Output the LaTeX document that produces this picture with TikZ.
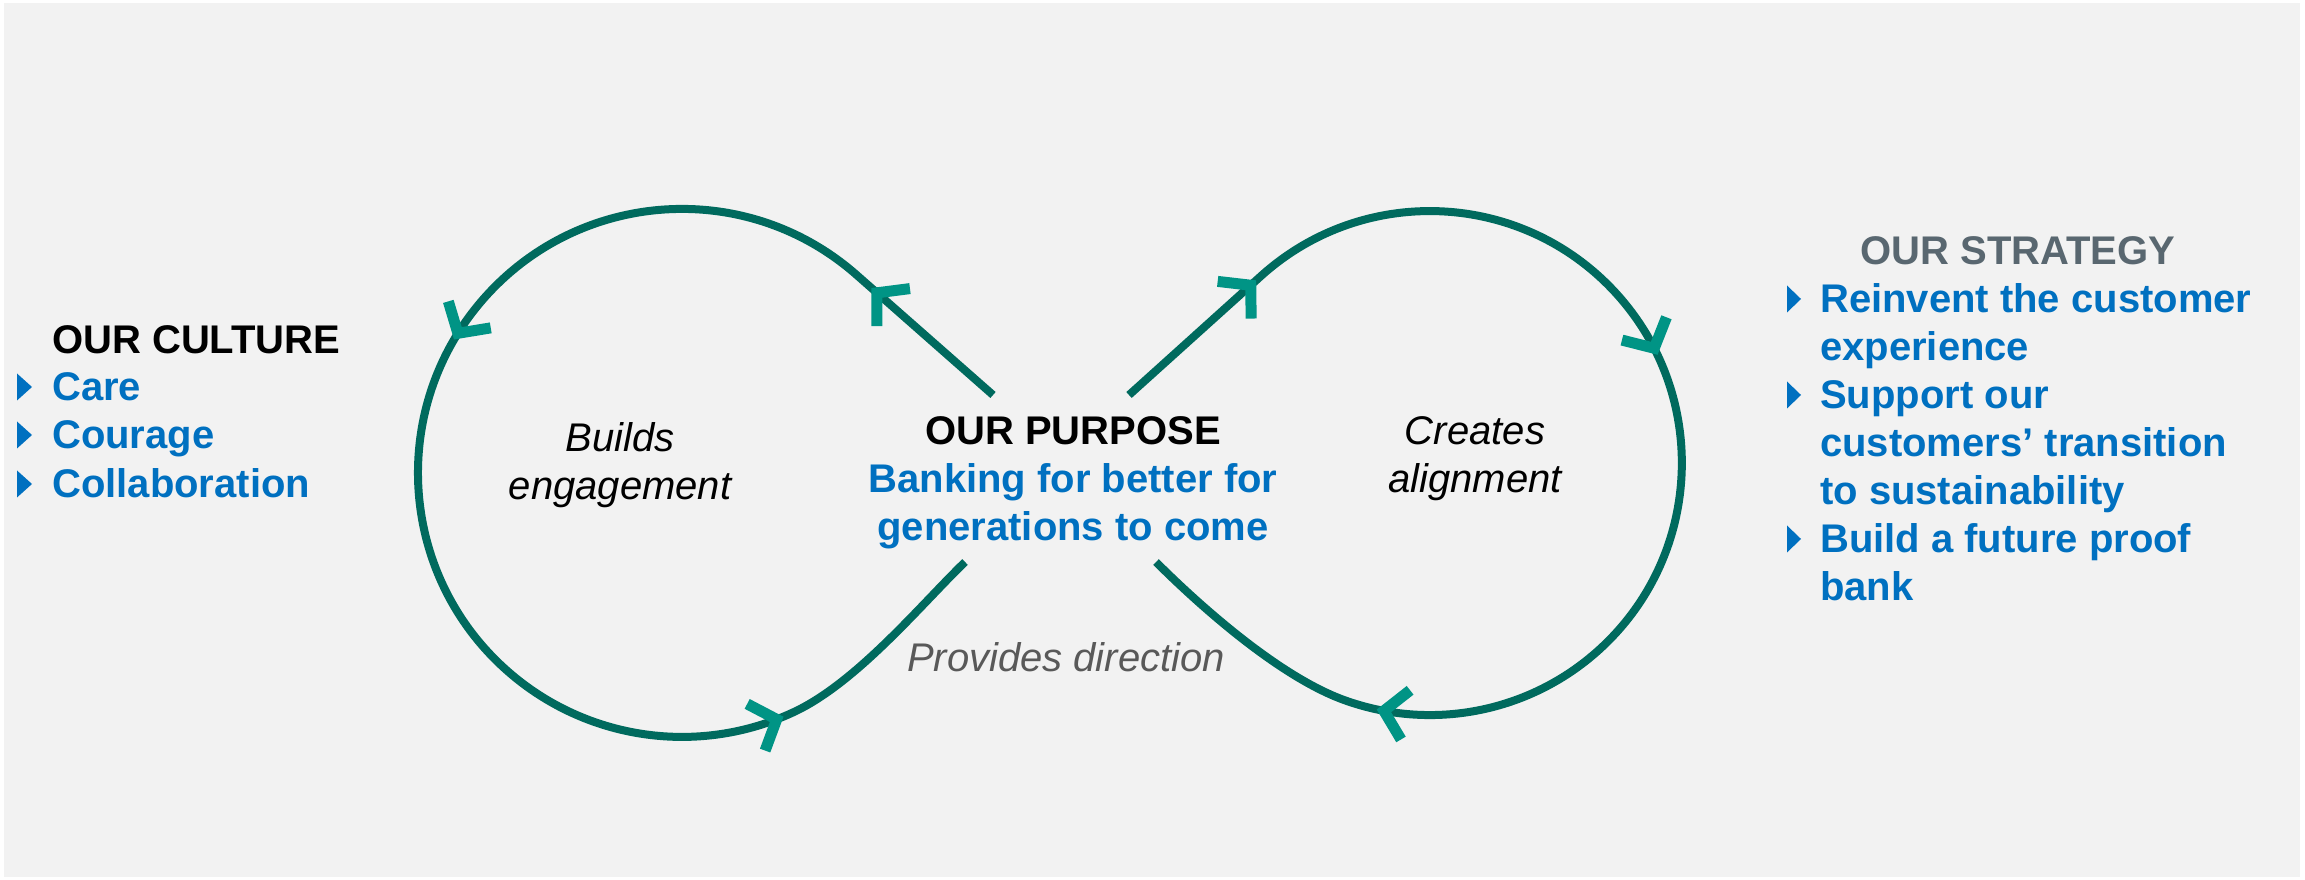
\documentclass[tikz,border=0pt]{standalone}
\usepackage{fontspec}
\setmainfont{Liberation Sans}
\usetikzlibrary{decorations.markings}

\definecolor{loopgreen}{RGB}{0,106,94}
\definecolor{tipgreen}{RGB}{0,148,133}
\definecolor{hsblue}{RGB}{0,112,192}
\definecolor{slate}{RGB}{89,103,112}
\definecolor{softgray}{RGB}{89,89,89}
\definecolor{panel}{RGB}{242,242,242}

\newcommand{\chevron}{\draw[chev] (-22pt,25pt) -- (0pt,0pt) -- (-22pt,-25pt);}

\tikzset{
  txt/.style={inner sep=0pt, font=\fontsize{40}{48}\selectfont},
  head/.style={inner sep=0pt, font=\fontsize{40}{48}\selectfont\bfseries},
  item/.style={head, text=hsblue, align=left, anchor=base west},
  note/.style={inner sep=0pt, font=\fontsize{40}{48}\selectfont\itshape, align=center, anchor=base},
  loop/.style={draw=loopgreen, line width=8pt},
  chev/.style={draw=tipgreen, line width=11pt, line join=miter},
  bullet/.style={fill=hsblue},
}

\begin{document}
\begin{tikzpicture}[x=1pt,y=1pt]
    \useasboundingbox (0,0) rectangle (2305,880);
    \fill[panel] (4,3) rectangle (2300,877);

    % Our culture
    \node[head, anchor=base west] (culture) at (52,526) {OUR CULTURE};
    \node[item] (care) at (52,479) {Care};
    \node[item] (courage) at (52,431) {Courage};
    \node[item] (collab) at (52,382) {Collaboration};
    \foreach \n in {care,courage,collab}
        \fill[bullet] ([shift={(-35pt,0.5pt)}]\n.base west) -- ++(0,27) -- ++(15,-13.5) -- cycle;

    % Our strategy (base = last line)
    \node[head, text=slate, anchor=base] (strategy) at (2018,615) {OUR STRATEGY};
    \node[item] (reinvent) at (1820,519) {Reinvent the customer\\experience};
    \node[item] (support) at (1820,375) {Support our\\customers’ transition\\to sustainability};
    \node[item] (build) at (1820,279) {Build a future proof\\bank};
    \foreach \n/\k in {reinvent/1,support/2,build/1}
        \fill[bullet] ([shift={(-33pt,{\k*48+0.5})}]\n.base west) -- ++(0,27) -- ++(14,-13.5) -- cycle;

    % Our purpose
    \node[head, align=center, anchor=base] (purpose) at (1073,339)
        {OUR PURPOSE\\\textcolor{hsblue}{Banking for better for}\\\textcolor{hsblue}{generations to come}};
    \node[note] (builds) at (620,380) {Builds\\engagement};
    \node[note] (creates) at (1475,387) {Creates\\alignment};
    \node[note, text=softgray] (direction) at (1066,208) {Provides direction};

    % Left loop
    \coordinate (lstart) at (993,485);
    \coordinate (lend) at (965,318);
    \draw[loop, postaction={decorate, decoration={markings,
            mark=at position 0.10 with {\chevron},
            mark=at position 0.414 with {\chevron},
            mark=at position 0.84 with {\chevron}}}]
        (lstart) -- (856.2,605.4) arc[start angle=48.7, end angle=295, radius=264pt]
        .. controls (857,197.3) and (921.8,276.3) .. (lend);

    % Right loop
    \coordinate (rstart) at (1129,485);
    \coordinate (rend) at (1156,318);
    \draw[loop, postaction={decorate, decoration={markings,
            mark=at position 0.111 with {\chevron},
            mark=at position 0.433 with {\chevron},
            mark=at position 0.813 with {\chevron}}}]
        (rstart) -- (1260.9,603.9) arc[start angle=132.1, end angle=-110, radius=252pt]
        .. controls (1278,204.1) and (1198.4,275.6) .. (rend);
\end{tikzpicture}
\end{document}
